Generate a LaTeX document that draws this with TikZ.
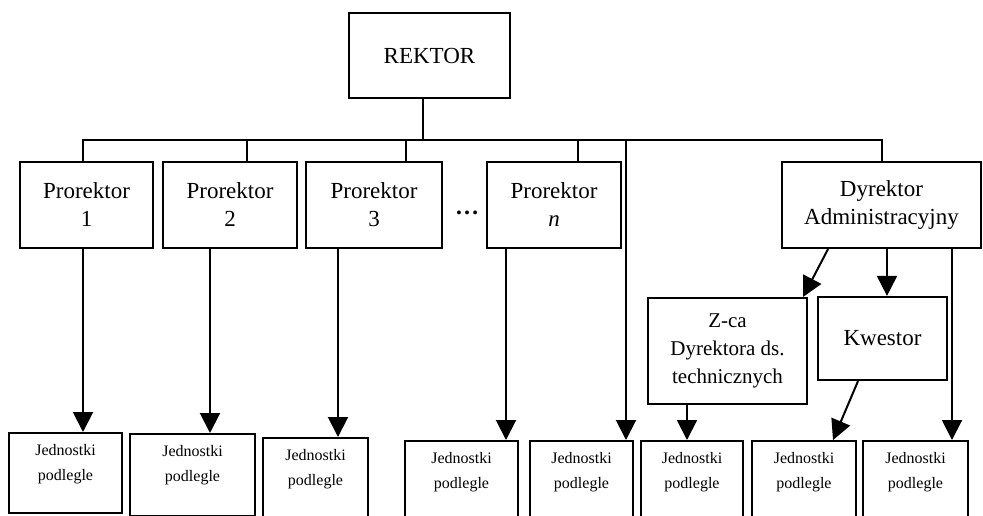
\documentclass[tikz,border=0pt]{standalone}
\usepackage{fontspec}
\setmainfont{Liberation Serif}
\usetikzlibrary{arrows.meta,positioning}

\begin{document}
\begin{tikzpicture}[x=1pt,y=-1pt,
  box/.style={draw,line width=2.2pt,inner sep=2pt,align=center,font=\fontsize{23}{28}\selectfont},
  jbox/.style={draw,line width=2.2pt,anchor=north,minimum height=80pt,
    label={[font=\fontsize{16}{25}\selectfont,align=center,anchor=north,yshift=-9pt]north:{Jednostki\\podlegle}}},
  lin/.style={line width=2pt},
  arr/.style={line width=2pt,-{Triangle[width=20pt,length=20pt]}}]
\clip (0,0) rectangle (983,516);
\useasboundingbox (0,0) rectangle (983,516);
% top level
\node[box,minimum width=161pt,minimum height=85pt] (rek) at (429.5,55.5) {REKTOR};
\coordinate (busy) at (0,140);
% prorektorzy and dyrektor
\node[box,minimum width=133pt,minimum height=86pt] (p1) at (86.5,205) {Prorektor\\1};
\node[box,minimum width=134pt,minimum height=86pt] (p2) at (230,205) {Prorektor\\2};
\node[box,minimum width=136pt,minimum height=86pt] (p3) at (374,205) {Prorektor\\3};
\node[font=\fontsize{24}{28}\selectfont\bfseries,inner sep=0pt] (dots) at (467,213) {\ldots};
\node[box,minimum width=134pt,minimum height=86pt] (pn) at (554,205) {Prorektor\\\textit{n}};
\node[box,minimum width=199pt,minimum height=86pt] (dyr) at (881.5,205) {Dyrektor\\Administracyjny};
\node[box,font=\fontsize{21}{28}\selectfont,minimum width=159pt,minimum height=106pt] (zca) at (727.5,351) {Z-ca\\Dyrektora ds.\\technicznych};
\node[box,minimum width=129pt,minimum height=83pt] (kw) at (882.5,338.5) {Kwestor};
% jednostki podlegle
\node[jbox,minimum width=113pt] (j1) at (65.5,432) {};
\node[jbox,minimum width=125pt,minimum height=82pt] (j2) at (192.5,433) {};
\node[jbox,minimum width=105pt] (j3) at (315.5,437) {};
\node[jbox,minimum width=113pt] (j4) at (461.5,440) {};
\node[jbox,minimum width=103pt] (j5) at (581.5,440) {};
\node[jbox,minimum width=102pt] (j6) at (692,440) {};
\node[jbox,minimum width=104pt] (j7) at (804,440) {};
\node[jbox,minimum width=105pt] (j8) at (915.5,440) {};
% bus
\draw[lin] ([xshift=-6.5pt]rek.south) -- ([xshift=-6.5pt]rek.south |- busy);
\draw[lin] ([xshift=-3.5pt]p1.north) -- ([xshift=-3.5pt]p1.north |- busy) -- (dyr.north |- busy) -- (dyr.north);
\foreach \n/\dx in {p2/17,p3/32,pn/24}
  \draw[lin] ([xshift=\dx pt]\n.north) -- ([xshift=\dx pt]\n.north |- busy);
\draw[arr] ([xshift=44.5pt]j5.north |- busy) -- ([xshift=44.5pt]j5.north);
% arrows down
\foreach \a/\b/\dx in {p1/j1/-3.5,p2/j2/-20,p3/j3/-36,pn/j4/-48}
  \draw[arr] ([xshift=\dx pt]\a.south) -- ([xshift=\dx pt]\a.south |- \b.north);
\draw[arr] ([xshift=-53.5pt]dyr.south) -- ([xshift=-5pt]zca.north east);
\draw[arr] ([xshift=5.5pt]dyr.south) -- ([xshift=5.5pt]dyr.south |- kw.north);
\draw[arr] ([xshift=70.5pt]dyr.south) -- ([xshift=70.5pt]dyr.south |- j8.north);
\draw[arr] ([xshift=-40.5pt]zca.south) -- ([xshift=-40.5pt]zca.south |- j6.north);
\draw[arr] ([xshift=-24.5pt]kw.south) -- ([xshift=29pt]j7.north);
\end{tikzpicture}
\end{document}
